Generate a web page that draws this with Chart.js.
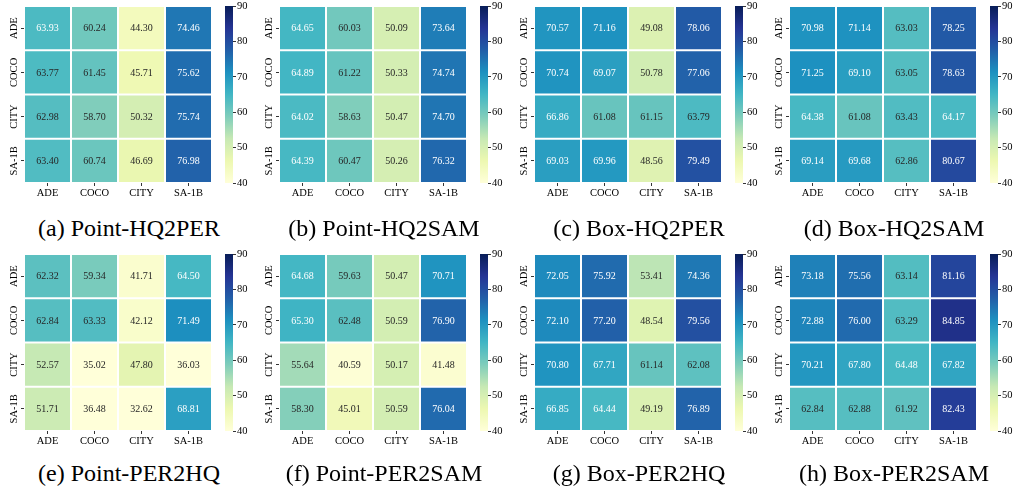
<!DOCTYPE html>
<html>
<head>
<meta charset="utf-8">
<script src="https://cdn.jsdelivr.net/npm/chart.js@4.4.0/dist/chart.umd.min.js"></script>
<style>
body { margin: 0; background: #fff; width: 1018px; height: 494px; position: relative; overflow: hidden; font-family: "Liberation Serif", serif; }
canvas { position: absolute; }
.cap { position: absolute; width: 254px; text-align: center; font-size: 24px; line-height: 24px; color: #000; white-space: nowrap; }
</style>
</head>
<body>
<script>
var colLabels = ['ADE', 'COCO', 'CITY', 'SA-1B'];
var rowLabels = ['ADE', 'COCO', 'CITY', 'SA-1B'];
var cbarTicks = [40, 50, 60, 70, 80, 90];

var pointHQ2PER = [[63.93, 60.24, 44.30, 74.46], [63.77, 61.45, 45.71, 75.62], [62.98, 58.70, 50.32, 75.74], [63.40, 60.74, 46.69, 76.98]];
var pointHQ2SAM = [[64.65, 60.03, 50.09, 73.64], [64.89, 61.22, 50.33, 74.74], [64.02, 58.63, 50.47, 74.70], [64.39, 60.47, 50.26, 76.32]];
var boxHQ2PER = [[70.57, 71.16, 49.08, 78.06], [70.74, 69.07, 50.78, 77.06], [66.86, 61.08, 61.15, 63.79], [69.03, 69.96, 48.56, 79.49]];
var boxHQ2SAM = [[70.98, 71.14, 63.03, 78.25], [71.25, 69.10, 63.05, 78.63], [64.38, 61.08, 63.43, 64.17], [69.14, 69.68, 62.86, 80.67]];
var pointPER2HQ = [[62.32, 59.34, 41.71, 64.50], [62.84, 63.33, 42.12, 71.49], [52.57, 35.02, 47.80, 36.03], [51.71, 36.48, 32.62, 68.81]];
var pointPER2SAM = [[64.68, 59.63, 50.47, 70.71], [65.30, 62.48, 50.59, 76.90], [55.64, 40.59, 50.17, 41.48], [58.30, 45.01, 50.59, 76.04]];
var boxPER2HQ = [[72.05, 75.92, 53.41, 74.36], [72.10, 77.20, 48.54, 79.56], [70.80, 67.71, 61.14, 62.08], [66.85, 64.44, 49.19, 76.89]];
var boxPER2SAM = [[73.18, 75.56, 63.14, 81.16], [72.88, 76.00, 63.29, 84.85], [70.21, 67.80, 64.48, 67.82], [62.84, 62.88, 61.92, 82.43]];

var panels = [
    { title: '(a) Point-HQ2PER', values: pointHQ2PER },
    { title: '(b) Point-HQ2SAM', values: pointHQ2SAM },
    { title: '(c) Box-HQ2PER', values: boxHQ2PER },
    { title: '(d) Box-HQ2SAM', values: boxHQ2SAM },
    { title: '(e) Point-PER2HQ', values: pointPER2HQ },
    { title: '(f) Point-PER2SAM', values: pointPER2SAM },
    { title: '(g) Box-PER2HQ', values: boxPER2HQ },
    { title: '(h) Box-PER2SAM', values: boxPER2SAM }
];

// YlGnBu
var ylgnbu = ['#ffffd9', '#edf8b1', '#c7e9b4', '#7fcdbb', '#41b6c4', '#1d91c0', '#225ea8', '#253494', '#081d58'];
var vmin = 40, vmax = 90;

function hexRGB(h) {
    return [parseInt(h.substr(1, 2), 16), parseInt(h.substr(3, 2), 16), parseInt(h.substr(5, 2), 16)];
}
function cmapRGB(v) {
    var t = (v - vmin) / (vmax - vmin);
    t = Math.max(0, Math.min(1, t));
    var p = t * 8;
    var i = Math.min(7, Math.floor(p));
    var f = p - i;
    var a = hexRGB(ylgnbu[i]), b = hexRGB(ylgnbu[i + 1]);
    return [a[0] + (b[0] - a[0]) * f, a[1] + (b[1] - a[1]) * f, a[2] + (b[2] - a[2]) * f];
}
function cmap(v) {
    var c = cmapRGB(v);
    return 'rgb(' + Math.round(c[0]) + ',' + Math.round(c[1]) + ',' + Math.round(c[2]) + ')';
}
// same rule seaborn uses for annotation colour
function textColor(v) {
    var c = cmapRGB(v).map(function (x) {
        x = x / 255;
        return x <= 0.03928 ? x / 12.92 : Math.pow((x + 0.055) / 1.055, 2.4);
    });
    var lum = 0.2126 * c[0] + 0.7152 * c[1] + 0.0722 * c[2];
    return lum > 0.4066 ? '#262626' : '#ffffff';
}

var serif = '"Liberation Serif", "Times New Roman", serif';

var heatPlugin = {
    id: 'heat',
    afterDatasetsDraw: function (chart) {
        var ctx = chart.ctx;
        ctx.save();
        ctx.textAlign = 'center';
        ctx.textBaseline = 'middle';
        ctx.font = '10px ' + serif;
        chart.data.datasets.forEach(function (ds, r) {
            chart.getDatasetMeta(r).data.forEach(function (bar, c) {
                var p = bar.getCenterPoint();
                ctx.fillStyle = textColor(ds.values[c]);
                ctx.fillText(ds.values[c].toFixed(2), p.x, p.y + 0.5);
            });
        });
        // rotated row labels
        var ys = chart.scales.y;
        ctx.fillStyle = '#000';
        ctx.font = '10.5px ' + serif;
        rowLabels.forEach(function (lab, r) {
            var y = ys.getPixelForValue(r + 0.5);
            ctx.save();
            ctx.translate(ys.right - 9.5, y);
            ctx.rotate(-Math.PI / 2);
            ctx.fillText(lab, 0, 0);
            ctx.restore();
        });
        ctx.restore();
    }
};

function makeCanvas(left, top, w, h) {
    var c = document.createElement('canvas');
    c.width = w; c.height = h;
    c.style.left = left + 'px'; c.style.top = top + 'px';
    c.style.width = w + 'px'; c.style.height = h + 'px';
    document.body.appendChild(c);
    return c;
}

panels.forEach(function (panel, k) {
    var col = k % 4, row = Math.floor(k / 4);
    var px = col * 255;
    var py = row * 248;

    // heatmap
    var datasets = rowLabels.map(function (lab, r) {
        return {
            label: lab,
            values: panel.values[r],
            data: colLabels.map(function () { return [r, r + 1]; }),
            backgroundColor: panel.values[r].map(cmap),
            borderColor: '#ffffff',
            borderWidth: 1,
            borderSkipped: false,
            inflateAmount: 0,
            barPercentage: 1,
            categoryPercentage: 1,
            grouped: false
        };
    });

    new Chart(makeCanvas(px, py, 214, 203), {
        type: 'bar',
        data: { labels: colLabels, datasets: datasets },
        plugins: [heatPlugin],
        options: {
            responsive: false,
            animation: false,
            events: [],
            layout: { padding: { top: 6, right: 2, left: 0, bottom: 0 } },
            plugins: { legend: { display: false }, tooltip: { enabled: false } },
            scales: {
                x: {
                    type: 'category',
                    offset: true,
                    grid: { offset: false, drawOnChartArea: false, drawTicks: true, tickLength: 3, color: '#000', lineWidth: 0.8 },
                    border: { display: false },
                    ticks: { font: { family: serif, size: 10.5 }, color: '#000', padding: 1, maxRotation: 0, autoSkip: false },
                    afterFit: function (s) { s.height = 20; s.paddingLeft = 0; s.paddingRight = 0; }
                },
                y: {
                    type: 'linear',
                    min: 0, max: 4,
                    reverse: true,
                    afterBuildTicks: function (s) {
                        s.ticks = rowLabels.map(function (l, r) { return { value: r + 0.5 }; });
                    },
                    grid: { drawOnChartArea: false, drawTicks: true, tickLength: 3, color: '#000', lineWidth: 0.8 },
                    border: { display: false },
                    ticks: {
                        color: 'rgba(0,0,0,0)',
                        font: { family: serif, size: 10.5 },
                        callback: function (v) { return rowLabels[Math.floor(v)]; }
                    },
                    afterFit: function (s) { s.width = 24; s.paddingTop = 0; s.paddingBottom = 0; }
                }
            }
        }
    });

    // colour bar
    new Chart(makeCanvas(px + 220, py, 40, 190), {
        type: 'bar',
        data: {
            labels: ['cbar'],
            datasets: [{
                data: [[vmin, vmax]],
                backgroundColor: function (c) {
                    var a = c.chart.chartArea;
                    if (!a) return ylgnbu[4];
                    var g = c.chart.ctx.createLinearGradient(0, a.bottom, 0, a.top);
                    ylgnbu.forEach(function (h, i) { g.addColorStop(i / 8, h); });
                    return g;
                },
                borderWidth: 0,
                inflateAmount: 0,
                barPercentage: 1,
                categoryPercentage: 1
            }]
        },
        options: {
            responsive: false,
            animation: false,
            events: [],
            layout: { padding: { top: 6, left: 5, right: 0, bottom: 7 } },
            plugins: { legend: { display: false }, tooltip: { enabled: false } },
            scales: {
                x: { display: false },
                y: {
                    position: 'right',
                    min: vmin, max: vmax,
                    afterBuildTicks: function (s) {
                        s.ticks = cbarTicks.map(function (v) { return { value: v }; });
                    },
                    grid: { drawOnChartArea: false, drawTicks: true, tickLength: 3, color: '#000', lineWidth: 0.8 },
                    border: { display: false },
                    ticks: { font: { family: serif, size: 10.5 }, color: '#000', padding: 1 },
                    afterFit: function (s) { s.width = 27; s.paddingTop = 0; s.paddingBottom = 0; }
                }
            }
        }
    });

    // caption
    var cap = document.createElement('div');
    cap.className = 'cap';
    cap.textContent = panel.title;
    cap.style.left = (px + 2) + 'px';
    cap.style.top = (row === 0 ? 216 : 461) + 'px';
    document.body.appendChild(cap);
});
</script>
</body>
</html>
